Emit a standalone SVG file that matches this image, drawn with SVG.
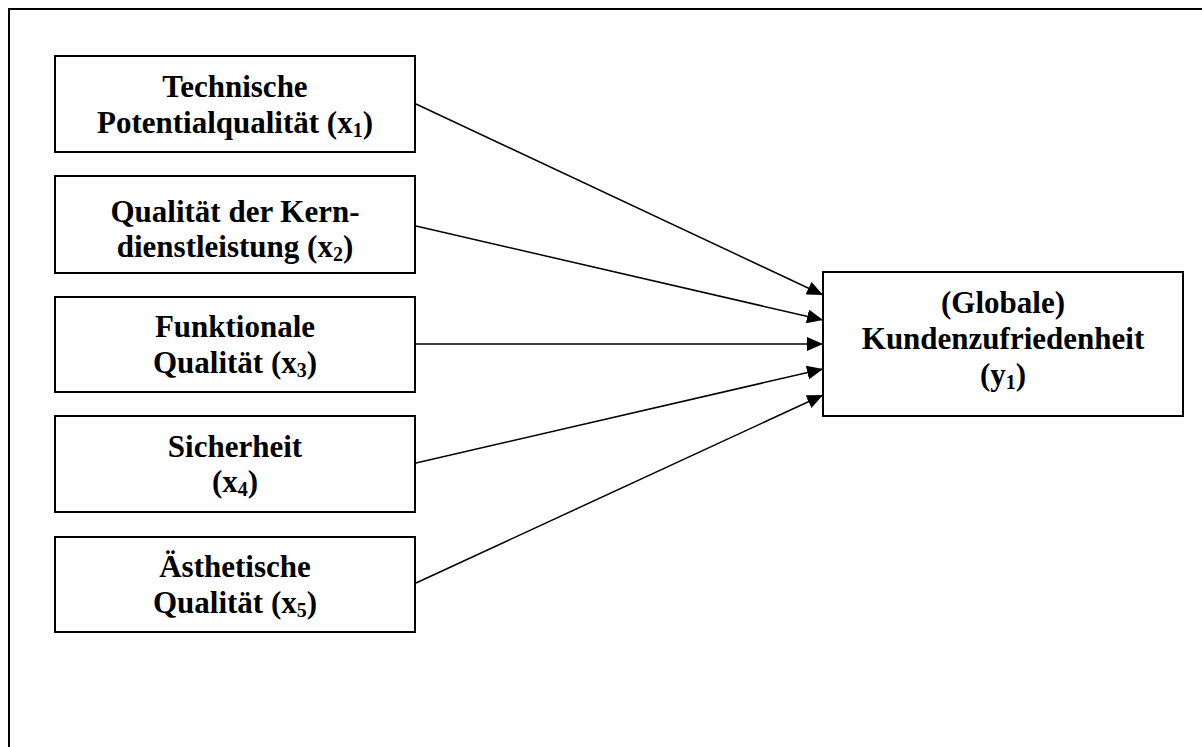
<svg xmlns="http://www.w3.org/2000/svg" width="1202" height="747" viewBox="0 0 1202 747">
  <style>
    .frame { fill: none; stroke: #000; stroke-width: 2; }
    .box { fill: #fff; stroke: #000; stroke-width: 2; }
    .lbl { font-family: "Liberation Serif", "Times New Roman", serif; font-weight: bold; font-size: 31px; fill: #000; text-anchor: middle; }
    .sub { font-size: 20px; }
    .edge { stroke: #000; stroke-width: 1.5; fill: none; marker-end: url(#arrow); }
  </style>
  <defs>
    <marker id="arrow" markerUnits="userSpaceOnUse" markerWidth="16" markerHeight="14" refX="16" refY="7" orient="auto">
      <path d="M0,0 L16,7 L0,14 Z" fill="#000"/>
    </marker>
  </defs>

  <rect width="1202" height="747" fill="#fff"/>
  <!-- outer frame, open towards the right and bottom edges -->
  <path class="frame" d="M9,747 L9,9 L1202,9"/>

  <g id="connectors">
    <line class="edge" x1="416" y1="104" x2="823" y2="295"/>
    <line class="edge" x1="416" y1="226" x2="823" y2="320"/>
    <line class="edge" x1="416" y1="344" x2="823" y2="344"/>
    <line class="edge" x1="416" y1="463" x2="823" y2="369"/>
    <line class="edge" x1="416" y1="583" x2="823" y2="395"/>
  </g>

  <g id="x1">
    <rect class="box" x="55" y="56" width="360" height="96"/>
    <text class="lbl" x="235" y="97">Technische</text>
    <text class="lbl" x="235" y="133">Potentialqualität (x<tspan class="sub" dy="4">1</tspan><tspan dy="-4">)</tspan></text>
  </g>

  <g id="x2">
    <rect class="box" x="55" y="176" width="360" height="97"/>
    <text class="lbl" x="235" y="222">Qualität der Kern-</text>
    <text class="lbl" x="235" y="257">dienstleistung (x<tspan class="sub" dy="4">2</tspan><tspan dy="-4">)</tspan></text>
  </g>

  <g id="x3">
    <rect class="box" x="55" y="297" width="360" height="95"/>
    <text class="lbl" x="235" y="337">Funktionale</text>
    <text class="lbl" x="235" y="373">Qualität (x<tspan class="sub" dy="4">3</tspan><tspan dy="-4">)</tspan></text>
  </g>

  <g id="x4">
    <rect class="box" x="55" y="416" width="360" height="96"/>
    <text class="lbl" x="235" y="457">Sicherheit</text>
    <text class="lbl" x="235" y="492">(x<tspan class="sub" dy="4">4</tspan><tspan dy="-4">)</tspan></text>
  </g>

  <g id="x5">
    <rect class="box" x="55" y="537" width="360" height="95"/>
    <text class="lbl" x="235" y="577">Ästhetische</text>
    <text class="lbl" x="235" y="613">Qualität (x<tspan class="sub" dy="4">5</tspan><tspan dy="-4">)</tspan></text>
  </g>

  <g id="y1">
    <rect class="box" x="823" y="272" width="360" height="144"/>
    <text class="lbl" x="1003" y="313">(Globale)</text>
    <text class="lbl" x="1003" y="349">Kundenzufriedenheit</text>
    <text class="lbl" x="1003" y="385">(y<tspan class="sub" dy="4">1</tspan><tspan dy="-4">)</tspan></text>
  </g>
</svg>
